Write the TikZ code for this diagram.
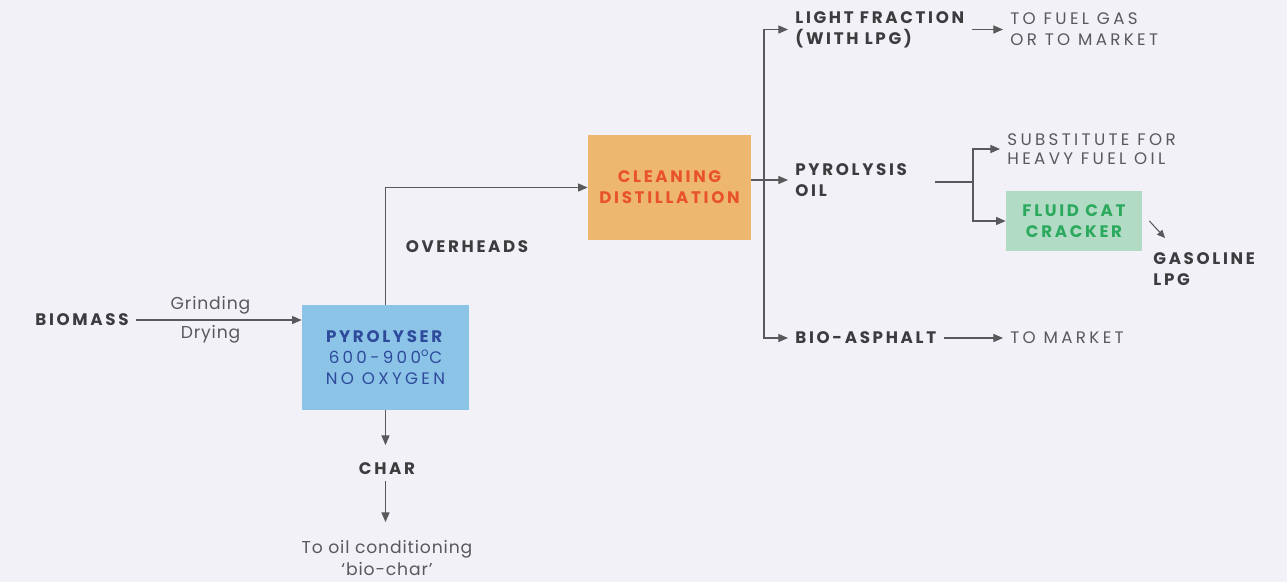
\documentclass[tikz,border=0pt]{standalone}
\usepackage{fontspec}
\setmainfont{Poppins}
\newfontfamily\capsfont[LetterSpace=16]{Poppins}
\newfontfamily\destfont[LetterSpace=20]{Poppins}
\newfontfamily\notefont[LetterSpace=5]{Poppins}
\usetikzlibrary{arrows.meta,positioning}

\definecolor{bg}{HTML}{F3F1F8}
\definecolor{ink}{HTML}{3C3C3E}
\definecolor{soft}{HTML}{58595B}
\definecolor{pyrfill}{HTML}{8CC4E8}
\definecolor{pyrtext}{HTML}{2E4A9B}
\definecolor{cleanfill}{HTML}{EEB76F}
\definecolor{cleantext}{HTML}{E9532B}
\definecolor{fccfill}{HTML}{B2DBC6}
\definecolor{fcctext}{HTML}{2BAA5E}

\tikzset{head/.style = {font=\capsfont\bfseries\fontsize{9.5}{12}\selectfont, text=ink, inner xsep=4pt, inner ysep=1pt, align=left}}
\tikzset{dest/.style = {font=\destfont\fontsize{9.5}{12}\selectfont, text=soft, inner xsep=4pt, inner ysep=1pt, align=left}}
\tikzset{note/.style = {font=\notefont\fontsize{9.8}{13}\selectfont, text=soft, inner sep=1pt, align=center}}
\tikzset{box/.style = {align=center, inner sep=0pt}}
\tikzset{edge/.style = {-{Triangle[length=5.5pt,width=4.6pt]}, draw=soft, line width=0.6pt}}
\tikzset{line/.style = {draw=soft, line width=0.6pt}}

\begin{document}
\begin{tikzpicture}[x=0.02cm, y=-0.02cm]
          \fill[bg] (0,0) rectangle (1287,582);
          \useasboundingbox (0,0) rectangle (1287,582);

          % boxes
          \node[box, fill=pyrfill, text=pyrtext, minimum width=3.34cm, minimum height=2.1cm,
                font=\destfont\fontsize{9.5}{12}\selectfont] (pyr) at (385.5,357.5)
               {\textbf{\capsfont PYROLYSER}\\600-900\textsuperscript{o}C\\NO OXYGEN};
          \node[box, fill=cleanfill, text=cleantext, minimum width=3.26cm, minimum height=2.1cm,
                font=\capsfont\bfseries\fontsize{9.5}{12}\selectfont] (clean) at (669.5,187.5)
               {CLEANING\\DISTILLATION};
          \node[box, fill=fccfill, text=fcctext, minimum width=2.72cm, minimum height=1.2cm,
                font=\capsfont\bfseries\fontsize{9.5}{12}\selectfont] (fcc) at (1074,221)
               {FLUID CAT\\CRACKER};

          % labels
          \node[head, anchor=center] (bio) at (82,320) {BIOMASS};
          \node[head, anchor=center] (over) at (467,247) {OVERHEADS};
          \node[head, anchor=center] (char) at (387,469) {CHAR};
          \node[note] (cond) at (387,558) {To oil conditioning\\‘bio-char’};
          \node[head, anchor=west] (light) at (788,29.5) {LIGHT FRACTION\\(WITH LPG)};
          \node[head, anchor=west] (oil) at (788,180) {PYROLYSIS\\OIL};
          \node[head, anchor=west] (asph) at (788,338) {BIO-ASPHALT};
          \node[dest, anchor=west] (fuel) at (1003,29.5) {TO FUEL GAS\\OR TO MARKET};
          \node[dest, anchor=west, font=\destfont\fontsize{9.5}{10.5}\selectfont] (sub) at (1000,149) {SUBSTITUTE FOR\\HEAVY FUEL OIL};
          \node[dest, anchor=west] (mkt) at (1003,338) {TO MARKET};
          \node[head, anchor=west] (gas) at (1146,269) {GASOLINE\\LPG};

          \coordinate (fork) at (764,181);
          \coordinate (split) at (973,182);
          \coordinate (tip) at (1165,238);

          % connectors
          \draw[edge] (bio.east) -- node[note, pos=0.45, above=2pt] {Grinding} node[note, pos=0.45, below=2pt] {Drying} (bio.east -| pyr.west);
          \draw[edge] (pyr.north) |- (clean.west);
          \draw[edge, shorten >=9pt] (pyr.south) -- (pyr.south |- char.north);
          \draw[edge, shorten <=2pt, shorten >=9pt] (pyr.south |- char.south) -- (pyr.south |- cond.north);
          \draw[edge] (clean.east |- oil.west) -- (oil.west);
          \draw[edge] (fork) |- (light.west);
          \draw[edge] (fork) |- (asph.west);
          \draw[edge] (light.east) -- (fuel.west);
          \draw[line] ([xshift=12pt]oil.east |- split) -- (split);
          \draw[edge] (split) |- (sub.west);
          \draw[edge] (split) |- (fcc.west);
          \draw[edge, -{Triangle[length=4.5pt,width=4pt]}] ([xshift=4pt]fcc.east) -- (tip);
          \draw[edge] (asph.east) -- (mkt.west);
        \end{tikzpicture}
\end{document}
